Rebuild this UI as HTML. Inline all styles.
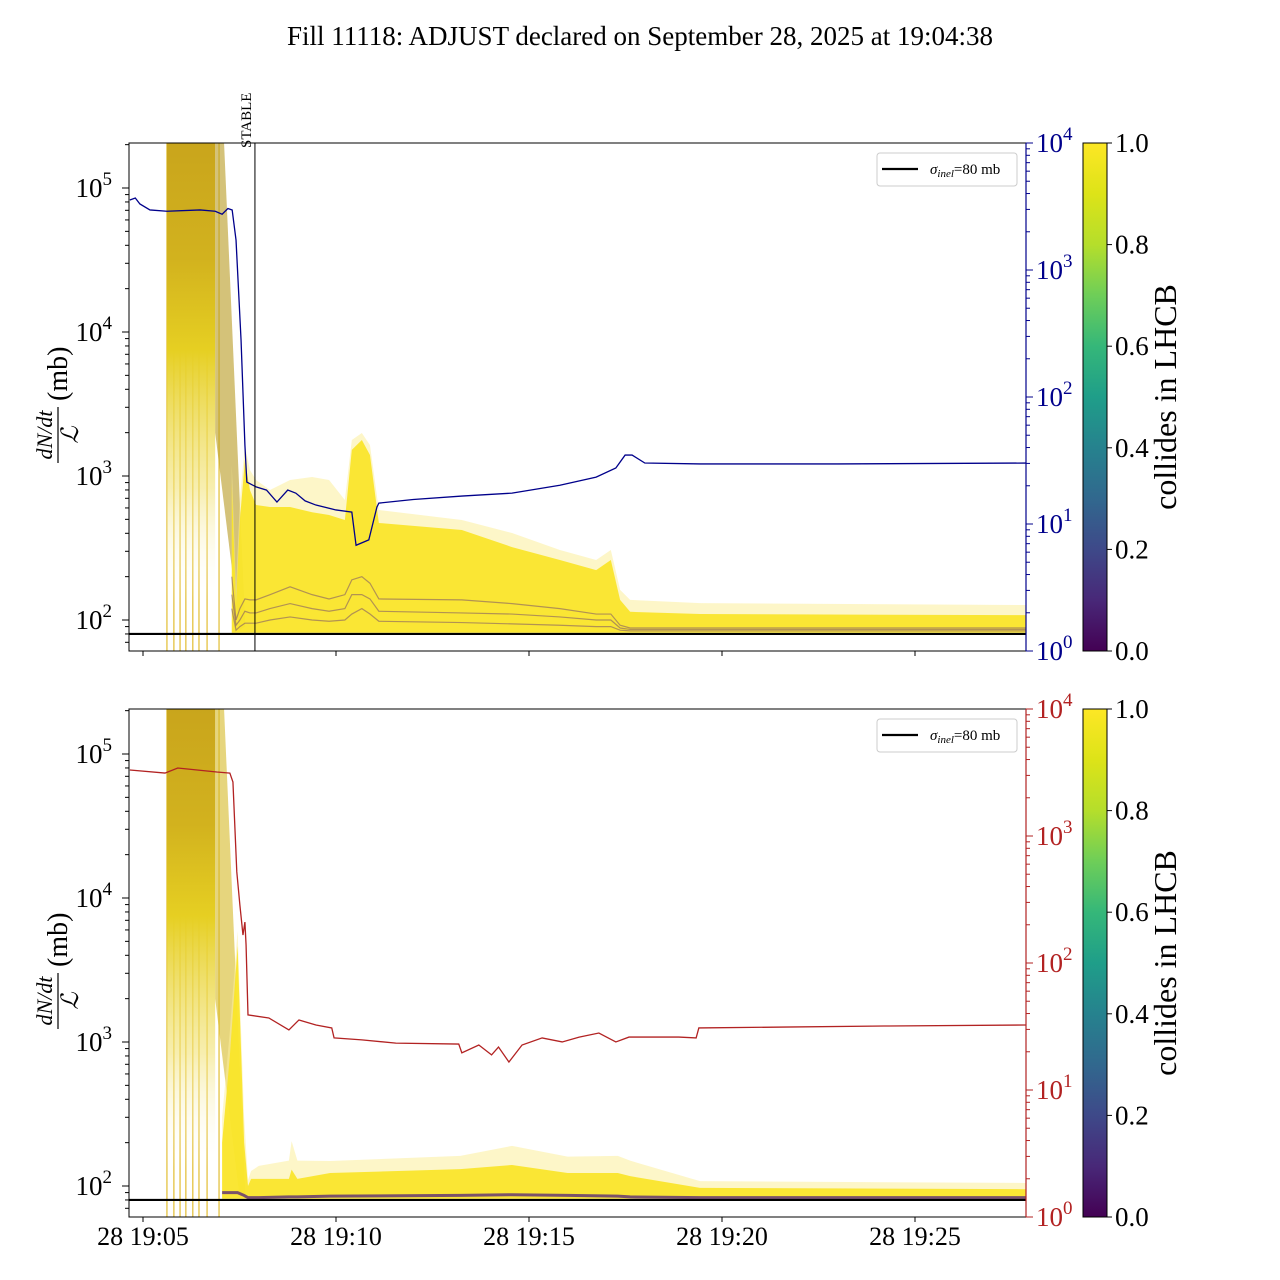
<!DOCTYPE html>
<html><head><meta charset="utf-8">
<style>
html,body{margin:0;padding:0;background:#fff;}
svg{display:block;font-family:"Liberation Serif",serif;}
</style></head>
<body>
<svg id="chart" width="1280" height="1280" viewBox="0 0 1280 1280" xmlns="http://www.w3.org/2000/svg">
<defs>
<linearGradient id="viridis" x1="0" y1="1" x2="0" y2="0">
<stop offset="0" stop-color="#440154"/><stop offset="0.1" stop-color="#482878"/><stop offset="0.2" stop-color="#3e4989"/><stop offset="0.3" stop-color="#31688e"/><stop offset="0.4" stop-color="#26828e"/><stop offset="0.5" stop-color="#1f9e89"/><stop offset="0.6" stop-color="#35b779"/><stop offset="0.7" stop-color="#6ece58"/><stop offset="0.8" stop-color="#b5de2b"/><stop offset="0.9" stop-color="#dde318"/><stop offset="1" stop-color="#fde725"/>
</linearGradient>
<linearGradient id="spikeTop" x1="0" y1="0" x2="0" y2="1">
<stop offset="0" stop-color="#c9a51c"/><stop offset="0.25" stop-color="#d2b21e"/><stop offset="0.45" stop-color="#e6cf22"/><stop offset="0.75" stop-color="#f2e37a" stop-opacity="0.6"/><stop offset="1" stop-color="#fff" stop-opacity="0"/>
</linearGradient>
<clipPath id="clipTop"><rect x="129" y="143" width="897" height="508"/></clipPath>
<clipPath id="clipBot"><rect x="129" y="709" width="897" height="508"/></clipPath>
</defs>
<text x="640" y="45" font-size="27" text-anchor="middle">Fill 11118: ADJUST declared on September 28, 2025 at 19:04:38</text>
<g id="top"></g>
<g id="bot"></g>
</svg>
<script>
// ---- data (x in minutes after 19:05) ----
const xTickLabels = ["28 19:05","28 19:10","28 19:15","28 19:20","28 19:25"];
const xTickMinutes = [0,5,10,15,20];
const leftTicks = [2,3,4,5];
const rightTicks = [0,1,2,3,4];
const cbTicks = ["0.0","0.2","0.4","0.6","0.8","1.0"];
const injectionLines = [0.62,0.80,0.96,1.11,1.29,1.45,1.66,1.97];
const spikeStart = 0.62, spikeEnd = 1.87;
const stableMinute = 2.9;
const sigmaInel = 80;

const blueTimes = [-0.34,-0.2,-0.08,0.18,0.62,1.48,1.87,2.05,2.20,2.31,2.41,2.54,2.64,2.69,2.93,3.2,3.47,3.75,3.96,4.2,4.48,5.0,5.41,5.52,5.85,6.06,6.11,7.0,8.26,8.70,9.56,10.80,11.74,12.25,12.49,12.67,13.0,14.43,18.0,22.88];
const blueValues = [3560,3690,3310,2970,2900,2970,2900,2750,3050,2970,1720,281,41.9,21.4,19.6,18.5,14.9,18.5,17.5,15.2,14.1,12.9,12.4,6.8,7.5,13.6,14.6,15.6,16.6,16.9,17.5,20.2,23.4,27.6,34.9,34.9,30.2,29.7,29.7,30.2];

const redTimes = [-0.34,0.57,0.9,1.91,2.25,2.33,2.43,2.51,2.59,2.64,2.67,2.72,3.26,3.78,4.04,4.48,4.89,4.95,5.67,6.55,8.18,8.26,8.70,9.03,9.21,9.48,9.82,10.34,10.86,11.30,11.81,12.25,12.59,13.88,14.33,14.40,16.6,19.2,22.88];
const redValues = [3310,3130,3430,3190,3130,2660,521,286,166,210,139,39.0,36.9,29.7,35.6,32.5,30.8,25.7,24.8,23.4,23.0,19.6,22.6,18.9,21.8,16.6,22.6,25.7,23.9,26.1,28.1,23.9,26.1,26.1,25.7,30.8,31.3,31.9,32.5];

// top panel band (left axis, mb)
const topBandTimes = [2.30,2.41,2.51,2.64,2.77,2.93,3.29,3.81,4.38,4.82,5.23,5.41,5.67,5.88,6.11,8.26,9.56,10.80,11.74,12.12,12.36,12.62,14.43,22.88];
const topFaint = [1200,162,681,1640,1100,938,800,938,984,938,681,1780,1990,1640,581,495,402,306,261,306,162,138,131,127];
const topDense = [900,130,495,1290,800,629,609,609,560,536,495,1520,1780,1400,472,422,321,261,222,261,138,114,110,108];
const topPurpleHi = [200,100,120,140,138,138,150,170,150,140,150,190,200,180,140,138,130,120,110,110,92,88,88,88];
const topPurpleMid = [150,92,100,115,112,112,120,130,120,115,120,150,150,140,115,112,110,105,100,100,88,86,86,86];
const topPurpleLo = [120,85,90,95,95,95,100,105,100,98,100,110,120,110,98,96,94,92,90,90,85,84,84,84];

// bottom panel band
const botBandTimes = [2.05,2.25,2.45,2.62,2.72,2.80,3.0,3.78,3.85,4.0,4.85,8.22,9.56,11.0,12.3,12.62,14.43,22.88];
const botFaint = [300,1200,5900,300,110,127,138,150,205,150,149,162,190,160,162,150,108,105];
const botDense = [200,800,4640,200,100,112,112,112,130,112,123,131,140,123,123,117,97,95];
const botPurple = [90,90,90,86,83,83,83,84,84,84,85,86,87,86,85,84,83,83];

// ---- helpers ----
const NS = "http://www.w3.org/2000/svg";
const xs = m => 143 + m*38.6;
function mk(parent, tag, attrs){ const e=document.createElementNS(NS,tag); for(const k in attrs) e.setAttribute(k,attrs[k]); parent.appendChild(e); return e; }

function drawPanel(g, top, rightColor, lineTimes, lineValues, bTimes, bFaint, bDense, purples, isBottom, clipId){
  const bottom = top+508;
  const yL = v => (top+477) - (Math.log10(v)-2)*144;
  const yR = v => bottom - Math.log10(v)*127;
  const clip = mk(g,'g',{'clip-path':`url(#${clipId})`});
  
  
  injectionLines.forEach(m=>{
    const l = mk(clip,'line',{x1:xs(m),x2:xs(m),y1:top,y2:bottom,stroke:'#e0b820','stroke-width':1.3,opacity:0.85});
    
    
  });
  const sp = mk(clip,'rect',{x:xs(spikeStart),y:top,width:xs(spikeEnd)-xs(spikeStart),height:460,fill:'url(#spikeTop)'});
  
  
  const st = mk(clip,'polygon',{points:`${xs(1.87)},${top} ${xs(2.1)},${top} ${xs(2.65)},${yL(90)} ${xs(2.5)},${yL(85)} ${xs(1.87)},${yL(2000)}`,fill:isBottom?'#d6b926':'#b89a20',opacity:0.6});
  
  
  function poly(upper, fill, op, name){
    let pts = bTimes.map((t,i)=>`${xs(t)},${yL(upper[i])}`);
    const lower = bTimes.slice().reverse().map(t=>`${xs(t)},${yL(sigmaInel*1.02)}`);
    const p = mk(clip,'polygon',{points:pts.concat(lower).join(' '),fill:fill,opacity:op});
    
    
  }
  poly(bFaint,'#fbee9a',0.55,'band-faint');
  poly(bDense,'#fae424',0.9,'band-dense');
  purples.forEach((arr,k)=>{
    const pl = mk(clip,'polyline',{points:bTimes.map((t,i)=>`${xs(t)},${yL(arr[i])}`).join(' '),fill:'none',stroke:'#5a2d78','stroke-width':isBottom?3:1.2,opacity:isBottom?0.8:0.45});
    
    
  });
  const sl = mk(clip,'line',{x1:129,x2:1026,y1:yL(sigmaInel),y2:yL(sigmaInel),stroke:'#000','stroke-width':2.2});
  
  
  const rl = mk(clip,'polyline',{points:lineTimes.map((t,i)=>`${xs(t)},${yR(lineValues[i])}`).join(' '),fill:'none',stroke:rightColor,'stroke-width':1.3});
  
  
  const fr = mk(g,'rect',{x:129,y:top,width:897,height:508,fill:'none',stroke:'#000','stroke-width':1});
  
  
  const rs = mk(g,'line',{x1:1026,x2:1026,y1:top,y2:bottom,stroke:rightColor,'stroke-width':1.2});
  
  
  xTickMinutes.forEach((m,i)=>{
    mk(g,'line',{x1:xs(m),x2:xs(m),y1:bottom,y2:bottom+5,stroke:'#000'});
    if(isBottom){
      const t = mk(g,'text',{x:xs(m),y:bottom+28,'font-size':26,'text-anchor':'middle'});
      t.textContent = xTickLabels[i];
      
      
    }
  });
  for(let d=1; d<=5; d++){
    for(let k=1;k<=9;k++){
      const v = k*Math.pow(10,d); const y=yL(v);
      if(y<top||y>bottom) continue;
      mk(g,'line',{x1:129,x2:k===1?122:125,y1:y,y2:y,stroke:'#000'});
    }
  }
  leftTicks.forEach(d=>{
    const t = mk(g,'text',{x:112,y:yL(Math.pow(10,d))+9,'font-size':27,'text-anchor':'end'});
    
    
    t.innerHTML = `10<tspan dy="-12" font-size="19">${d}</tspan>`;
  });
  for(let d=0; d<4; d++){
    for(let k=1;k<=9;k++){
      const y=yR(k*Math.pow(10,d));
      mk(g,'line',{x1:1026,x2:k===1?1033:1030,y1:y,y2:y,stroke:rightColor});
    }
  }
  mk(g,'line',{x1:1026,x2:1033,y1:top,y2:top,stroke:rightColor});
  rightTicks.forEach(d=>{
    const t = mk(g,'text',{x:1036,y:yR(Math.pow(10,d))+9,'font-size':27,fill:rightColor});
    
    
    t.innerHTML = `10<tspan dy="-12" font-size="19">${d}</tspan>`;
  });
  const yl = mk(g,'g',{transform:`translate(60,${top+254}) rotate(-90)`});
  
  
  const n = mk(yl,'text',{x:-38,y:-8,'font-size':22,'font-style':'italic','text-anchor':'middle'}); n.textContent='dN/dt';
  mk(yl,'line',{x1:-66,x2:-10,y1:-2,y2:-2,stroke:'#000','stroke-width':1.2});
  const dn = mk(yl,'text',{x:-38,y:18,'font-size':24,'font-style':'italic','text-anchor':'middle'}); dn.textContent='ℒ';
  const mb = mk(yl,'text',{x:-4,y:7,'font-size':28}); mb.textContent='(mb)';
  const lg = mk(g,'g',{});
  
  
  mk(lg,'rect',{x:877,y:top+10,width:140,height:33,rx:3,fill:'#fff',stroke:'#ccc'});
  mk(lg,'line',{x1:882,x2:918,y1:top+26,y2:top+26,stroke:'#000','stroke-width':2.2});
  const lt = mk(lg,'text',{x:930,y:top+31,'font-size':15});
  lt.innerHTML = '<tspan font-style="italic">σ</tspan><tspan font-style="italic" font-size="11" dy="3">inel</tspan><tspan dy="-3">=80 mb</tspan>';
  const cb = mk(g,'rect',{x:1083,y:top,width:24,height:508,fill:'url(#viridis)',stroke:'#000','stroke-width':1});
  
  
  cbTicks.forEach((s,i)=>{
    const y = bottom - i*508/5;
    mk(g,'line',{x1:1107,x2:1112,y1:y,y2:y,stroke:'#000'});
    const t = mk(g,'text',{x:1115,y:y+9,'font-size':27}); t.textContent=s;
    
    
  });
  const cl = mk(g,'text',{x:0,y:0,'font-size':32,'text-anchor':'middle',transform:`translate(1176,${top+254}) rotate(-90)`});
  cl.textContent='collides in LHCB';
  
  
}

const gTop = document.getElementById('top');
const gBot = document.getElementById('bot');
drawPanel(gTop,143,'#00008b',blueTimes,blueValues,topBandTimes,topFaint,topDense,[topPurpleHi,topPurpleMid,topPurpleLo],false,'clipTop');
drawPanel(gBot,709,'#b22222',redTimes,redValues,botBandTimes,botFaint,botDense,[botPurple],true,'clipBot');
const sx = xs(stableMinute);
const sline = mk(gTop,'line',{x1:sx,x2:sx,y1:143,y2:651,stroke:'#000','stroke-width':1});


const stxt = mk(gTop,'text',{x:0,y:0,'font-size':15,transform:`translate(${sx-4},148) rotate(-90)`});
stxt.textContent='STABLE';


</script>
</body></html>
